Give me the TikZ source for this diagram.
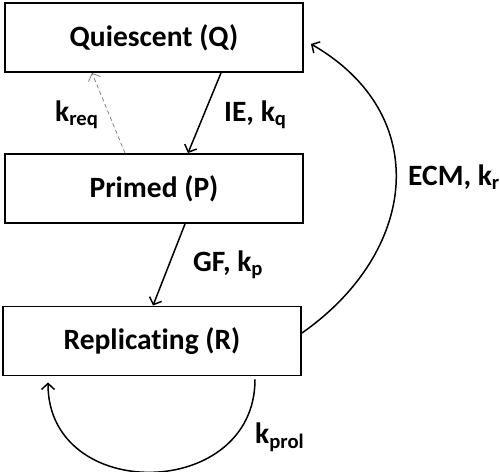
\documentclass[tikz,border=0pt]{standalone}
\usepackage{fontspec}
\setmainfont[Ligatures=NoCommon]{Carlito}
\usetikzlibrary{arrows.meta}
\tikzset{
  state/.style={draw,line width=1.9pt,minimum width=298pt,minimum height=69pt,
    inner sep=0pt,font=\bfseries\fontsize{29.5}{34}\selectfont},
  rate/.style={anchor=base west,inner sep=0pt,font=\bfseries\fontsize{29.5}{34}\selectfont},
  flow/.style={line width=1.5pt,-{Straight Barb[length=6pt,width=13pt]}}
}

\begin{document}
\begin{tikzpicture}[x=1pt,y=1pt]
        \useasboundingbox (0,0) rectangle (500,471);
        % States
        \node[state] (Q) at (154,433.5) {Quiescent (Q)};
        \node[state] (P) at (154,282.5) {Primed (P)};
        \node[state] (R) at (152,130) {Replicating (R)};
        % Forward transitions
        \draw[flow] ([xshift=67pt]Q.south) -- ([xshift=34pt]P.north);
        \node[rate] (kq) at (224,349) {IE, k\textsubscript{q}};
        \draw[flow] ([xshift=31pt]P.south) -- ([xshift=1pt]R.north);
        \node[rate] (kp) at (193,199) {GF, k\textsubscript{p}};
        % Return to quiescence
        \draw[flow,line width=0.8pt,gray,dash pattern=on 4pt off 3pt]
          ([xshift=-29pt]P.north) -- ([xshift=-62pt]Q.south);
        \node[rate] (kreq) at (55,349) {k\textsubscript{req}};
        \draw[flow] ([yshift=8pt]R.east) to[out=35,in=-30,looseness=1.25]
          ([shift={(7pt,-6.5pt)}]Q.east);
        \node[rate] (kr) at (408,285) {ECM, k\textsubscript{r}};
        % Proliferation
        \draw[flow] ([shift={(103pt,-3pt)}]R.south) to[out=-90,in=-90,looseness=1.5]
          ([shift={(-104pt,-6pt)}]R.south);
        \node[rate] (kprol) at (255,28) {k\textsubscript{prol}};
\end{tikzpicture}
\end{document}
